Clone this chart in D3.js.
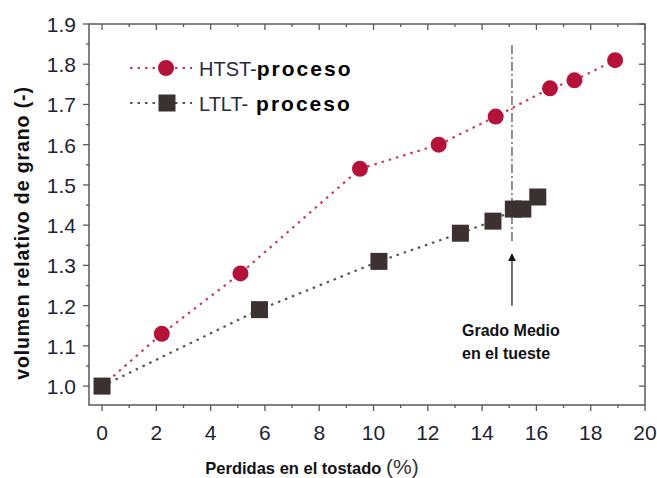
<!DOCTYPE html>
<html>
<head>
<meta charset="utf-8">
<script src="https://cdn.jsdelivr.net/npm/d3@7"></script>
<style>
  html, body { margin: 0; padding: 0; background: #fff; }
  svg { display: block; font-family: Arial, "Liberation Sans", sans-serif; }
</style>
</head>
<body>
<svg id="chart" width="657" height="478"></svg>
<script>
// values
const htstX = [0, 2.2, 5.1, 9.5, 12.4, 14.5, 16.5, 17.4, 18.9];
const htstY = [1.0, 1.13, 1.28, 1.54, 1.60, 1.67, 1.74, 1.76, 1.81];
const ltltX = [0, 5.8, 10.2, 13.2, 14.4, 15.15, 15.5, 16.05];
const ltltY = [1.0, 1.19, 1.31, 1.38, 1.41, 1.44, 1.44, 1.47];
const xTicks = [0, 2, 4, 6, 8, 10, 12, 14, 16, 18, 20];
const yTicks = [1.0, 1.1, 1.2, 1.3, 1.4, 1.5, 1.6, 1.7, 1.8, 1.9];
const medioX = 15.1;   // dash-dot marker "Grado Medio"

const C = {
  red: "#b5123a", redLine: "#d0385a",
  dark: "#3b3130", darkLine: "#555",
  frame: "#5a5a5a", tick: "#1f2230"
};

const svg = d3.select("#chart");
const L = 89, R = 645, T = 24, B = 405;
const x = d3.scaleLinear().domain([-0.48, 20]).range([L, R]);
const y = d3.scaleLinear().domain([0.953, 1.9]).range([B, T]);

// frame
svg.append("rect").attr("x", L).attr("y", T).attr("width", R - L).attr("height", B - T)
  .attr("fill", "none").attr("stroke", C.frame).attr("stroke-width", 1.5);

// ticks: outward on left/bottom, inward mirrored on top/right
const xMinor = d3.range(1, 20, 2);
const yMinor = d3.range(0.95, 1.9, 0.1).map(v => +v.toFixed(2)).filter(v => v > 0.953);
const tk = svg.append("g").attr("stroke", C.frame).attr("stroke-width", 1.3);
xTicks.forEach(v => {
  tk.append("line").attr("x1", x(v)).attr("x2", x(v)).attr("y1", B).attr("y2", B + 6);
  tk.append("line").attr("x1", x(v)).attr("x2", x(v)).attr("y1", T).attr("y2", T + 6);
});
xMinor.forEach(v => {
  tk.append("line").attr("x1", x(v)).attr("x2", x(v)).attr("y1", B).attr("y2", B + 3);
  tk.append("line").attr("x1", x(v)).attr("x2", x(v)).attr("y1", T).attr("y2", T + 3);
});
yTicks.forEach(v => {
  tk.append("line").attr("x1", L - 6).attr("x2", L).attr("y1", y(v)).attr("y2", y(v));
  tk.append("line").attr("x1", R - 6).attr("x2", R).attr("y1", y(v)).attr("y2", y(v));
});
yMinor.forEach(v => {
  tk.append("line").attr("x1", L - 3).attr("x2", L).attr("y1", y(v)).attr("y2", y(v));
  tk.append("line").attr("x1", R - 3).attr("x2", R).attr("y1", y(v)).attr("y2", y(v));
});

// tick labels
svg.append("g").selectAll("text").data(xTicks).join("text")
  .attr("x", d => x(d)).attr("y", B + 35).attr("text-anchor", "middle")
  .attr("font-size", 21).attr("fill", C.tick).text(d => d);
svg.append("g").selectAll("text").data(yTicks).join("text")
  .attr("x", L - 13).attr("y", d => y(d) + 8).attr("text-anchor", "end")
  .attr("font-size", 21).attr("fill", C.tick).text(d => d.toFixed(1));

// axis titles
svg.append("text")
  .attr("transform", `translate(29,${233}) rotate(-90)`)
  .attr("text-anchor", "middle").attr("font-size", 19.5).attr("font-weight", "bold")
  .attr("fill", "#111").attr("letter-spacing", 0.9).text("volumen relativo de grano (-)");
const xt = svg.append("text").attr("x", 312).attr("y", 474).attr("text-anchor", "middle").attr("fill", "#111");
xt.append("tspan").attr("font-size", 16.5).attr("font-weight", "bold").text("Perdidas en el tostado ");
xt.append("tspan").attr("font-size", 21).attr("fill", "#333").text("(%)");

// series lines
const line = (xs) => d3.line().x((d, i) => x(xs[i])).y(d => y(d));
svg.append("path").attr("d", line(ltltX)(ltltY)).attr("fill", "none")
  .attr("stroke", C.darkLine).attr("stroke-width", 2.2).attr("stroke-dasharray", "2.5 5");
svg.append("path").attr("d", line(htstX)(htstY)).attr("fill", "none")
  .attr("stroke", C.redLine).attr("stroke-width", 2.2).attr("stroke-dasharray", "2.5 5");

// grado medio marker line
svg.append("line").attr("x1", x(medioX)).attr("x2", x(medioX))
  .attr("y1", y(1.848)).attr("y2", y(1.36))
  .attr("stroke", "#555").attr("stroke-width", 1.3).attr("stroke-dasharray", "9 3 2 3");

// markers
svg.append("g").selectAll("circle").data(htstY).join("circle")
  .attr("cx", (d, i) => x(htstX[i])).attr("cy", d => y(d)).attr("r", 8)
  .attr("fill", C.red);
svg.append("g").selectAll("rect").data(ltltY).join("rect")
  .attr("x", (d, i) => x(ltltX[i]) - 8.5).attr("y", d => y(d) - 8.5)
  .attr("width", 17).attr("height", 17).attr("fill", C.dark);

// arrow
svg.append("defs").append("marker").attr("id", "ah")
  .attr("viewBox", "0 0 10 10").attr("refX", 9).attr("refY", 5)
  .attr("markerWidth", 8).attr("markerHeight", 10).attr("markerUnits", "userSpaceOnUse")
  .attr("orient", "auto")
  .append("path").attr("d", "M0,0 L10,5 L0,10 Z").attr("fill", "#111");
svg.append("line").attr("x1", x(medioX)).attr("x2", x(medioX))
  .attr("y1", y(1.2)).attr("y2", y(1.328))
  .attr("stroke", "#333").attr("stroke-width", 1.4).attr("marker-end", "url(#ah)");

const ann = svg.append("g").attr("font-size", 16).attr("font-weight", "bold").attr("fill", "#111");
ann.append("text").attr("x", 462).attr("y", 336).text("Grado Medio");
ann.append("text").attr("x", 462).attr("y", 359).text("en el tueste");

// legend
const legend = [
  { name: "HTST-", rest: "proceso", y: 68, color: C.red, line: C.redLine, shape: "circle" },
  { name: "LTLT-", rest: " proceso", y: 103, color: C.dark, line: C.darkLine, shape: "square" }
];
legend.forEach(d => {
  const g = svg.append("g");
  g.append("line").attr("x1", 130).attr("x2", 192).attr("y1", d.y).attr("y2", d.y)
    .attr("stroke", d.line).attr("stroke-width", 2.2).attr("stroke-dasharray", "2.5 5");
  if (d.shape === "circle") g.append("circle").attr("cx", 166).attr("cy", d.y).attr("r", 8).attr("fill", d.color);
  else g.append("rect").attr("x", 158.5).attr("y", d.y - 8.5).attr("width", 17).attr("height", 17).attr("fill", d.color);
  const t = g.append("text").attr("x", 199).attr("y", d.y + 8);
  t.append("tspan").attr("font-size", 20).attr("fill", "#2a2a3a").text(d.name);
  t.append("tspan").attr("font-size", 21).attr("font-weight", "bold").attr("fill", "#000")
    .attr("letter-spacing", 2).text(d.rest);
});
</script>
</body>
</html>
